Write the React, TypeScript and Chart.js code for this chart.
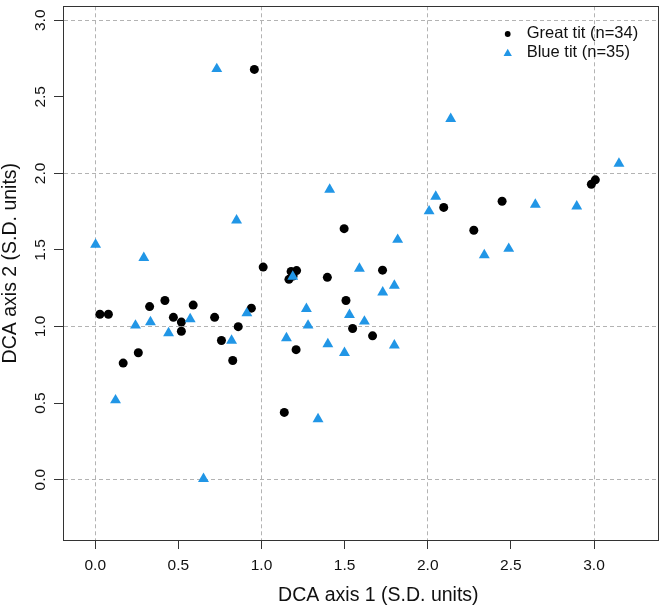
import React, { useEffect, useRef } from 'react';
import { Chart, registerables } from 'chart.js';

Chart.register(...registerables);

// ---- Data ----
const greatTitX = [0.028, 0.079, 0.168, 0.259, 0.327, 0.419, 0.470, 0.518, 0.518, 0.589, 0.718, 0.759, 0.827, 0.860, 0.939, 0.957, 1.010, 1.137, 1.165, 1.178, 1.211, 1.208, 1.396, 1.497, 1.508, 1.548, 1.668, 1.728, 2.096, 2.277, 2.447, 2.984, 3.008, 1.190];
const greatTitY = [1.080, 1.080, 0.761, 0.829, 1.130, 1.170, 1.060, 1.029, 0.969, 1.140, 1.060, 0.909, 0.778, 0.999, 1.120, 2.679, 1.388, 0.439, 1.308, 1.360, 1.365, 0.849, 1.321, 1.639, 1.170, 0.987, 0.939, 1.368, 1.778, 1.629, 1.818, 1.929, 1.958, 1.330];

const blueTitX = [0.002, 0.122, 0.242, 0.292, 0.332, 0.441, 0.571, 0.651, 0.731, 0.820, 0.850, 0.912, 1.150, 1.188, 1.270, 1.280, 1.340, 1.399, 1.410, 1.499, 1.529, 1.589, 1.619, 1.729, 1.799, 1.799, 1.819, 2.008, 2.048, 2.138, 2.340, 2.487, 2.647, 2.896, 3.150];
const blueTitY = [1.535, 0.519, 1.007, 1.448, 1.029, 0.957, 1.048, 0.006, 2.682, 0.908, 1.693, 1.087, 0.925, 1.326, 1.115, 1.007, 0.396, 0.886, 1.894, 0.828, 1.077, 1.379, 1.033, 1.223, 1.267, 0.877, 1.567, 1.753, 1.848, 2.356, 1.466, 1.508, 1.796, 1.785, 2.064];

const seriesLabels = ['Great tit (n=34)', 'Blue tit (n=35)'];
const xTitle = 'DCA axis 1 (S.D. units)';
const yTitle = 'DCA axis 2 (S.D. units)';
const xLimits = [-0.194, 3.383];
const yLimits = [-0.394, 3.091];
const tickStep = 0.5;

// ---- Styles ----
const FONT = '"Liberation Sans", Arial, Helvetica, sans-serif';
const BLUE = '#2196e6';
const BLACK = '#000000';
const FRAME = '#333333';
const GRID = '#b3b3b3';
const TEXT = '#111111';

const isInt = (v: number) => Math.abs(v - Math.round(v)) < 1e-9;

const toPoints = (xs: number[], ys: number[]) => xs.map((x, i) => ({ x, y: ys[i] }));

const framePlugin = {
  id: 'frameBox',
  afterDatasetsDraw(chart: any) {
    const { ctx, chartArea: a } = chart;
    ctx.save();
    ctx.strokeStyle = FRAME;
    ctx.lineWidth = 1;
    ctx.setLineDash([]);
    const l = Math.round(a.left) + 0.5;
    const t = Math.round(a.top) + 0.5;
    const r = Math.round(a.right) + 0.5;
    const b = Math.round(a.bottom) + 0.5;
    ctx.strokeRect(l, t, r - l, b - t);
    ctx.restore();
  },
};

const titlesPlugin = {
  id: 'axisTitles',
  afterDraw(chart: any) {
    const { ctx, chartArea: a } = chart;
    ctx.save();
    ctx.fillStyle = TEXT;
    ctx.font = `19.5px ${FONT}`;
    ctx.textAlign = 'center';
    ctx.textBaseline = 'alphabetic';
    const cx = (a.left + a.right) / 2 + 18;
    ctx.fillText(xTitle, cx, a.bottom + 61);
    const cy = (a.top + a.bottom) / 2 - 10;
    ctx.translate(16, cy);
    ctx.rotate(-Math.PI / 2);
    ctx.fillText(yTitle, 0, 0);
    ctx.restore();
  },
};

const legendPlugin = {
  id: 'insetLegend',
  afterDatasetsDraw(chart: any) {
    const { ctx, chartArea: a } = chart;
    const markerX = a.right - 150;
    const textX = a.right - 131;
    const rows = [a.top + 27.2, a.top + 46];
    ctx.save();
    chart.data.datasets.forEach((ds: any, i: number) => {
      const y = rows[i];
      ctx.fillStyle = ds.backgroundColor;
      ctx.beginPath();
      if (ds.pointStyle === 'triangle') {
        const r = 4.8;
        const cy = y + 1.2;
        ctx.moveTo(markerX, cy - r);
        ctx.lineTo(markerX + r * Math.sin(Math.PI / 3), cy + r / 2);
        ctx.lineTo(markerX - r * Math.sin(Math.PI / 3), cy + r / 2);
        ctx.closePath();
      } else {
        ctx.arc(markerX, y + 0.5, 2.9, 0, Math.PI * 2);
      }
      ctx.fill();
      ctx.fillStyle = TEXT;
      ctx.font = `16.5px ${FONT}`;
      ctx.textAlign = 'left';
      ctx.textBaseline = 'middle';
      ctx.fillText(ds.label, textX, y);
    });
    ctx.restore();
  },
};

export default function App() {
  const canvasRef = useRef<HTMLCanvasElement | null>(null);

  useEffect(() => {
    const canvas = canvasRef.current;
    if (!canvas) return;
    const gridColor = (c: any) => (c && c.tick && isInt(c.tick.value) ? GRID : 'rgba(0,0,0,0)');
    const chart = new Chart(canvas, {
      type: 'scatter',
      data: {
        datasets: [
          {
            label: seriesLabels[0],
            data: toPoints(greatTitX, greatTitY),
            pointStyle: 'circle',
            pointRadius: 4.5,
            pointHoverRadius: 4.5,
            backgroundColor: BLACK,
            borderColor: BLACK,
            borderWidth: 0,
            order: 2,
          },
          {
            label: seriesLabels[1],
            data: toPoints(blueTitX, blueTitY),
            pointStyle: 'triangle',
            pointRadius: 6.3,
            pointHoverRadius: 6.3,
            backgroundColor: BLUE,
            borderColor: BLUE,
            borderWidth: 0,
            order: 1,
          },
        ],
      },
      options: {
        responsive: false,
        animation: false,
        devicePixelRatio: 1,
        layout: { padding: { left: 0, top: 3, right: 4, bottom: 0 } },
        plugins: {
          legend: { display: false },
          tooltip: { enabled: false },
        },
        scales: {
          x: {
            type: 'linear',
            min: xLimits[0],
            max: xLimits[1],
            afterFit: (s: any) => {
              s.height = 66;
              s.paddingLeft = 0;
              s.paddingRight = 0;
            },
            ticks: {
              stepSize: tickStep,
              includeBounds: false,
              autoSkip: false,
              maxRotation: 0,
              minRotation: 0,
              padding: 7,
              color: TEXT,
              font: { family: FONT, size: 15.5 },
              callback: (v: any) => Number(v).toFixed(1),
            },
            grid: {
              color: gridColor,
              tickColor: FRAME,
              tickLength: 9,
              lineWidth: 1,
              tickWidth: 1,
            },
            border: { display: true, color: FRAME, width: 1, dash: [4, 3] },
            title: { display: false },
          },
          y: {
            type: 'linear',
            min: yLimits[0],
            max: yLimits[1],
            afterFit: (s: any) => {
              s.width = 63;
              s.paddingTop = 0;
              s.paddingBottom = 0;
            },
            ticks: {
              stepSize: tickStep,
              includeBounds: false,
              autoSkip: false,
              minRotation: 90,
              maxRotation: 90,
              crossAlign: 'center',
              padding: 2.5,
              color: TEXT,
              font: { family: FONT, size: 15.5 },
              callback: (v: any) => Number(v).toFixed(1),
            },
            grid: {
              color: gridColor,
              tickColor: FRAME,
              tickLength: 9,
              lineWidth: 1,
              tickWidth: 1,
            },
            border: { display: true, color: FRAME, width: 1, dash: [4, 3] },
            title: { display: false },
          },
        },
      },
      plugins: [framePlugin, titlesPlugin, legendPlugin],
    } as any);
    return () => chart.destroy();
  }, []);

  return (
    <div style={{ position: 'absolute', left: 0, top: 0, width: 664, height: 606, background: '#ffffff' }}>
      <canvas ref={canvasRef} width={664} height={606} style={{ display: 'block' }} />
    </div>
  );
}
